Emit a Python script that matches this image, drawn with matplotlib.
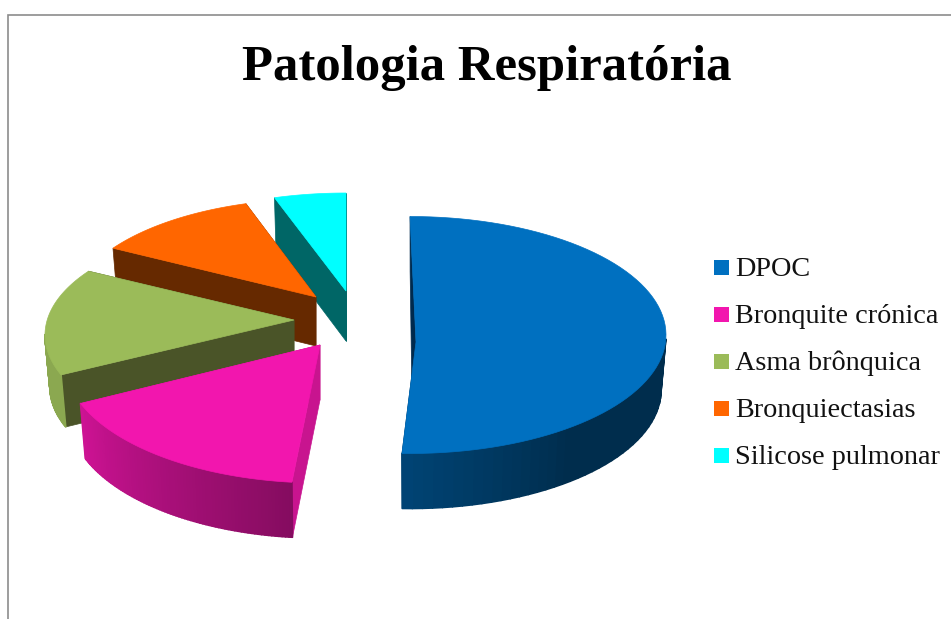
import matplotlib

matplotlib.use('Agg')
import matplotlib.pyplot as plt
from matplotlib.collections import PolyCollection
from matplotlib.colors import to_rgb
from matplotlib.patches import Polygon, Rectangle
import numpy as np

# data
categories = ['DPOC', 'Bronquite crónica', 'Asma brônquica', 'Bronquiectasias', 'Silicose pulmonar']
values = [51.75, 17.5, 15.3, 10.85, 4.6]

# styles
top_colors = ['#0070c0', '#f216ae', '#9bbb59', '#ff6600', '#00ffff']
wall_colors = ['#002a4d', '#c8148f', '#4a5428', '#662900', '#006666']
rim_angles = [[90, 140, 183], [186, 249], [249, 270], [304, 344], [344, 360]]
rim_shades = [[0.40, 0.40, 0.62], [0.55, 0.85], [0.90, 0.90], [0.4, 0.4], [0.4, 0.4]]

# layout of the exploded pie, in canvas pixels
center = (365, 320)
start_angle = 0.0
offset_x = [51, -45, -71, -49, -19]
offset_y = [22, 25, 0, -23, -29]
lean_x = [-6, 0, 0, 0, 0]
drop = [-7, 15, 15, 15, 15]
radius_x = [256, 256, 249, 246, 251]
radius_y = [118.5, 123, 113, 113, 113]
depth = [55, 55, 52, 49, 50]
apex_shift = [-4, 0, 0, 0, 0]
gap_after = [4.5, 0, 0, 0, 0]
bottom_scale = 0.98

fig = plt.figure(figsize=(9.51, 6.19), dpi=100)
ax = fig.add_axes([0, 0, 1, 1])
ax.set_xlim(0, 951)
ax.set_ylim(619, 0)
ax.axis('off')

# moldura do grafico
ax.plot([8, 8, 951], [619, 15, 15], color='#8c8c8c', lw=1.2, solid_joinstyle='miter')

ax.text(487, 68, 'Patologia Respiratória', ha='center', va='center', fontsize=36.5,
        fontweight='bold', family='Liberation Serif', color='black')

sweeps = np.array(values) / sum(values) * 360
starts = start_angle + np.concatenate([[0], np.cumsum(sweeps)[:-1]])

# back to front
for i in [4, 3, 2, 1, 0]:
    theta = np.radians(np.linspace(starts[i], starts[i] + sweeps[i] - gap_after[i], 80))
    ax_x = center[0] + offset_x[i]
    ax_y = center[1] + offset_y[i]
    rim_x = ax_x + lean_x[i] + radius_x[i] * np.sin(theta)
    rim_y = ax_y + drop[i] - radius_y[i] * np.cos(theta)
    low_x = ax_x + (rim_x - ax_x) * bottom_scale
    low_y = rim_y + depth[i]

    # radial faces
    for j in [0, -1]:
        face = [(rim_x[j], rim_y[j]), (ax_x, ax_y), (ax_x + apex_shift[i], ax_y + depth[i]), (low_x[j], low_y[j])]
        ax.add_patch(Polygon(face, closed=True, facecolor=wall_colors[i], edgecolor=wall_colors[i], lw=0.5))

    # outer rim, only what looks to the front
    quads = []
    shades = []
    base = np.array(to_rgb(top_colors[i]))
    degs = np.degrees(theta)
    for k in range(len(theta) - 1):
        if 90 <= degs[k] <= 270:
            quads.append([(rim_x[k], rim_y[k]), (rim_x[k + 1], rim_y[k + 1]),
                          (low_x[k + 1], low_y[k + 1]), (low_x[k], low_y[k])])
            shades.append(base * np.interp(degs[k], rim_angles[i], rim_shades[i]))
    if quads:
        ax.add_collection(PolyCollection(quads, facecolors=shades, edgecolors=shades, linewidths=1.2))

    top = [(ax_x, ax_y)] + list(zip(rim_x, rim_y))
    ax.add_patch(Polygon(top, closed=True, facecolor=top_colors[i], edgecolor=top_colors[i], lw=0.5))

# legenda
for i, name in enumerate(categories):
    y = 267.5 + 47 * i
    ax.add_patch(Rectangle((714, y - 7.5), 15, 15, facecolor=top_colors[i], edgecolor='none'))
    ax.text(735, y + 2, name, ha='left', va='center', fontsize=20.3, family='Liberation Serif', color='#111111')

fig.savefig('out.png', dpi=100)
plt.close('all')
